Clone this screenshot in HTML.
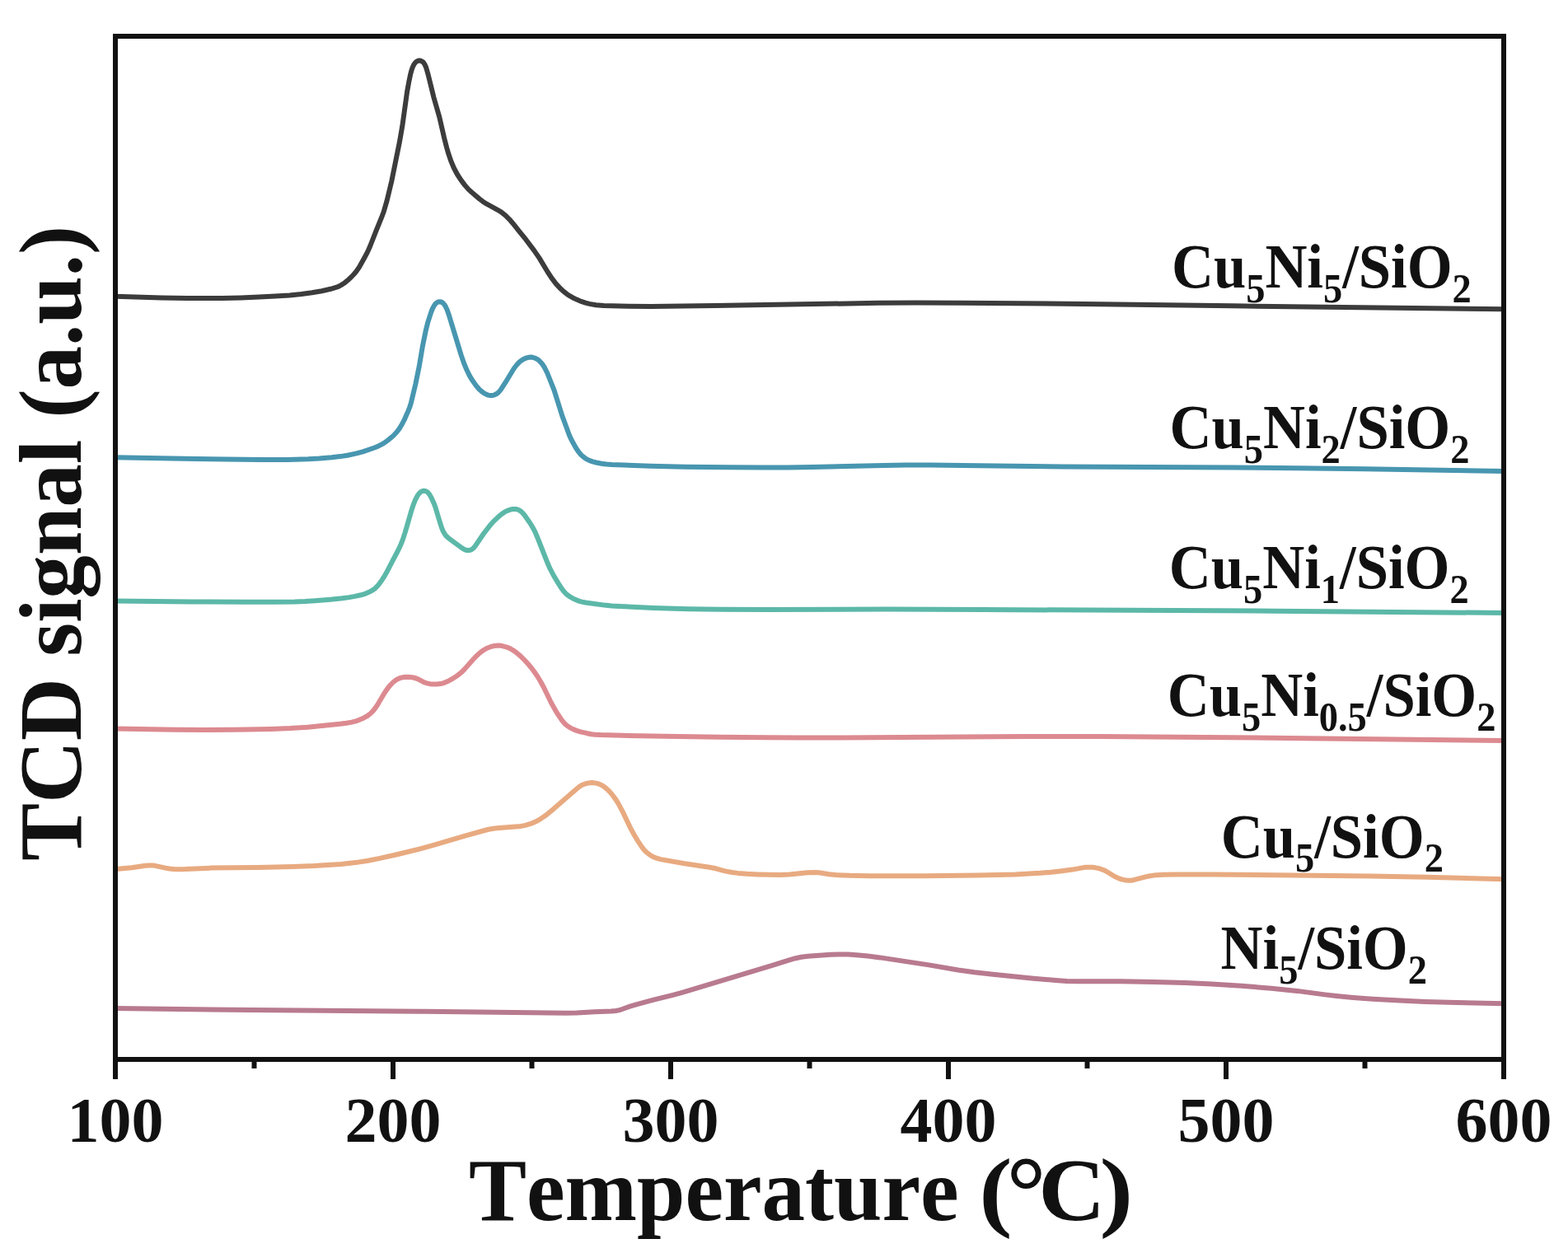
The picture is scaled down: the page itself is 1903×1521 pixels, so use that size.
<!DOCTYPE html>
<html><head><meta charset="utf-8"><title>TCD signal vs Temperature</title>
<style>html,body{margin:0;padding:0;background:#fff;overflow:hidden}svg{display:block}</style>
</head><body>
<svg xmlns="http://www.w3.org/2000/svg" width="1903" height="1521" viewBox="0 0 1903 1521">
<rect width="1903" height="1521" fill="#fff"/>
<g><path d="M140.0,359.7 L196.0,361.4 L227.0,361.9 L250.0,362.1 L270.0,361.9 L292.5,361.4 L314.4,360.6 L333.9,359.6 L351.4,358.4 L365.8,357.0 L378.7,355.3 L390.5,353.2 L401.3,350.8 L408.4,348.7 L411.2,347.6 L413.8,346.2 L418.8,342.9 L422.6,339.7 L426.3,336.3 L429.4,333.0 L432.0,330.0 L436.0,324.2 L442.8,312.0 L446.3,305.4 L449.1,299.0 L456.6,279.9 L463.0,264.2 L465.8,256.7 L469.3,244.7 L475.3,219.9 L484.8,172.9 L488.2,153.6 L494.2,110.6 L496.1,100.2 L498.2,90.0 L499.4,85.6 L500.5,82.3 L501.7,79.6 L502.9,77.5 L504.4,75.6 L505.8,74.5 L507.5,73.8 L509.2,73.5 L510.5,73.7 L511.7,74.2 L513.9,75.8 L515.5,78.2 L517.1,81.8 L519.7,90.9 L526.5,118.5 L533.3,142.1 L539.1,167.4 L542.1,179.0 L544.2,186.3 L547.4,195.7 L550.9,204.0 L554.9,211.5 L559.5,218.6 L564.0,224.6 L568.6,229.9 L572.3,233.3 L581.8,241.4 L585.8,244.4 L590.4,247.4 L604.0,254.8 L608.2,257.4 L613.3,261.4 L618.3,266.3 L622.5,271.2 L630.0,280.6 L638.2,290.7 L648.1,303.9 L654.6,313.4 L664.9,330.5 L669.6,337.6 L674.7,344.4 L680.5,350.6 L684.2,353.9 L687.7,356.7 L691.0,358.9 L694.9,361.2 L699.9,363.6 L705.4,365.9 L710.6,367.7 L715.4,368.9 L723.3,370.3 L732.8,371.0 L762.3,371.8 L789.8,372.0 L867.3,371.1 L1065.7,367.8 L1111.7,367.5 L1167.2,367.7 L1315.7,369.0 L1495.7,371.3 L1825.0,375.3" stroke="#3c3c3c" stroke-width="6.0" fill="none" stroke-linejoin="round" stroke-linecap="round"/>
<path d="M140.0,555.3 L238.0,557.0 L316.0,557.9 L350.0,557.9 L374.0,557.3 L387.4,556.6 L402.4,555.3 L412.8,554.1 L421.7,552.7 L431.5,550.6 L440.2,548.3 L454.4,543.5 L459.9,541.2 L465.6,538.1 L470.5,534.6 L477.0,529.2 L481.5,524.5 L484.8,520.1 L487.9,515.0 L491.3,508.3 L495.1,499.6 L497.3,494.0 L498.8,489.3 L504.3,466.4 L508.7,444.9 L512.7,421.2 L517.0,400.2 L519.2,391.4 L523.2,379.1 L524.8,374.9 L526.4,371.8 L528.0,369.3 L529.6,367.7 L531.6,366.5 L533.7,366.2 L534.9,366.4 L536.2,366.9 L537.3,367.6 L538.7,368.9 L540.6,371.7 L542.7,376.2 L545.3,383.8 L559.7,431.1 L563.1,441.0 L566.8,449.8 L569.9,456.1 L573.5,462.1 L577.9,468.2 L581.8,472.7 L584.4,475.0 L587.2,477.1 L589.7,478.5 L592.5,479.6 L594.8,480.1 L597.2,480.1 L599.6,479.6 L601.8,478.6 L603.4,477.6 L604.9,476.4 L607.5,473.4 L613.5,464.2 L623.6,447.5 L627.2,442.8 L630.7,439.2 L633.5,437.1 L636.1,435.6 L638.8,434.5 L641.6,433.8 L644.1,433.6 L646.5,433.8 L648.8,434.5 L651.5,435.7 L653.1,436.8 L655.0,438.4 L658.3,442.1 L661.2,446.7 L664.3,453.0 L672.6,473.9 L682.5,505.4 L687.4,518.5 L690.8,527.9 L693.7,534.2 L699.3,544.2 L702.4,548.8 L705.3,552.2 L708.3,554.8 L711.5,557.1 L715.1,558.9 L719.3,560.4 L723.6,561.5 L730.0,562.7 L736.0,563.4 L742.5,563.9 L789.4,565.8 L832.4,566.7 L884.9,567.3 L924.4,567.5 L955.9,567.4 L985.4,566.9 L1072.4,564.9 L1099.4,564.6 L1129.9,564.6 L1166.9,565.0 L1289.9,566.6 L1496.9,567.6 L1573.9,568.3 L1657.3,569.3 L1825.0,572.0" stroke="#4896b0" stroke-width="6.0" fill="none" stroke-linejoin="round" stroke-linecap="round"/>
<path d="M140.0,729.4 L234.0,730.4 L298.5,730.8 L334.0,730.8 L358.0,730.5 L370.0,730.0 L382.0,729.2 L400.9,727.7 L415.3,726.2 L423.7,725.1 L430.6,723.9 L438.0,722.3 L443.7,720.6 L447.8,718.8 L451.3,716.9 L454.6,714.7 L457.2,712.3 L459.5,709.8 L462.2,706.1 L465.8,700.7 L468.8,695.6 L476.4,680.9 L482.7,669.0 L485.3,663.6 L487.5,658.5 L489.5,652.9 L491.8,645.8 L499.9,617.9 L502.0,611.8 L504.1,606.7 L506.6,601.8 L508.9,598.7 L510.3,597.4 L511.5,596.6 L513.1,596.0 L514.4,595.8 L515.7,595.9 L517.0,596.3 L519.3,597.8 L521.4,600.4 L523.8,604.7 L526.5,610.7 L528.3,615.3 L533.9,634.0 L536.2,641.1 L538.0,645.2 L540.0,648.6 L541.5,650.6 L543.3,652.3 L549.2,656.9 L560.9,665.4 L563.9,667.1 L566.1,667.9 L568.4,668.1 L570.7,667.7 L572.9,666.7 L575.1,664.9 L577.5,661.8 L587.3,647.3 L595.6,636.7 L598.3,633.7 L603.0,629.2 L606.6,625.8 L609.4,623.7 L612.2,621.7 L615.3,620.1 L618.6,618.9 L621.4,618.1 L623.9,617.9 L626.3,618.0 L628.6,618.6 L630.8,619.7 L633.8,622.1 L636.7,625.5 L643.0,634.5 L646.9,640.9 L649.6,646.2 L653.1,654.5 L664.9,684.3 L667.7,690.7 L671.7,698.2 L677.3,707.6 L681.6,714.4 L684.9,718.7 L688.1,721.8 L692.2,724.7 L697.0,727.3 L702.6,729.6 L706.4,730.6 L710.8,731.5 L733.6,734.6 L742.5,735.5 L752.0,736.1 L793.5,737.9 L836.0,739.2 L875.5,739.8 L932.0,740.0 L1075.5,739.6 L1193.5,740.0 L1545.5,741.7 L1825.0,744.0" stroke="#5cb8a8" stroke-width="6.0" fill="none" stroke-linejoin="round" stroke-linecap="round"/>
<path d="M140.0,884.4 L211.0,885.7 L244.0,886.1 L285.0,885.8 L329.5,885.0 L352.5,884.1 L373.4,882.7 L412.7,878.7 L420.6,877.7 L427.0,876.6 L433.8,874.8 L439.8,872.3 L445.9,869.0 L448.3,867.2 L450.6,865.3 L453.3,862.4 L456.3,858.4 L459.2,853.8 L466.6,841.3 L471.1,834.7 L474.0,831.3 L476.8,828.5 L479.5,826.2 L482.4,824.4 L485.6,823.0 L489.5,822.1 L493.4,821.8 L497.9,821.9 L501.8,822.5 L505.2,823.5 L507.9,824.6 L512.7,827.2 L515.4,828.5 L518.2,829.4 L521.6,830.2 L525.5,830.6 L530.0,830.6 L534.5,830.1 L538.3,829.1 L542.9,827.3 L548.7,824.2 L553.3,821.3 L557.7,818.0 L561.1,815.1 L564.2,811.9 L573.1,801.7 L577.5,797.0 L581.9,792.9 L585.8,789.8 L590.6,787.0 L595.2,785.2 L600.0,784.0 L605.0,783.6 L609.4,784.1 L614.2,785.3 L618.4,786.9 L622.7,789.3 L626.8,792.2 L631.4,796.1 L637.0,801.7 L642.1,807.3 L645.5,811.5 L649.1,816.4 L652.4,821.3 L655.6,826.5 L660.1,834.8 L668.8,852.8 L675.7,865.0 L681.8,874.1 L684.0,876.8 L686.4,879.3 L689.1,881.5 L692.5,883.6 L696.0,885.4 L699.8,886.9 L704.5,888.3 L712.8,890.2 L717.7,891.2 L722.2,891.7 L728.7,892.1 L746.2,892.6 L807.1,893.8 L873.6,894.8 L930.6,895.3 L971.1,895.5 L1019.6,895.4 L1242.6,894.0 L1335.1,894.1 L1432.6,894.7 L1584.6,896.2 L1825.0,899.0" stroke="#dc8a90" stroke-width="6.0" fill="none" stroke-linejoin="round" stroke-linecap="round"/>
<path d="M140.5,1055.1 L159.9,1053.2 L176.7,1050.8 L182.2,1050.4 L185.2,1050.5 L188.1,1050.9 L200.8,1053.6 L205.7,1054.5 L210.7,1055.1 L216.2,1055.3 L225.2,1055.1 L256.6,1053.6 L313.1,1053.1 L356.1,1052.0 L381.1,1051.0 L414.0,1048.9 L431.4,1047.1 L446.8,1044.7 L461.0,1041.9 L482.9,1037.0 L514.5,1029.2 L527.0,1025.7 L565.3,1014.3 L591.9,1007.0 L597.3,1006.0 L602.7,1005.3 L632.1,1002.9 L637.5,1001.9 L643.2,1000.2 L647.9,998.4 L652.8,996.0 L657.1,993.4 L661.6,990.3 L671.7,982.1 L700.0,957.5 L703.9,954.4 L706.9,952.7 L710.6,951.3 L714.5,950.4 L718.4,950.1 L721.9,950.4 L725.3,951.1 L728.5,952.3 L731.2,953.7 L734.0,955.6 L737.1,958.2 L740.2,961.4 L743.1,964.8 L747.6,970.9 L751.5,977.3 L756.1,986.1 L764.9,1004.6 L769.4,1013.0 L774.3,1021.1 L778.8,1027.8 L782.1,1032.1 L785.3,1035.2 L789.3,1038.2 L792.4,1039.9 L795.1,1041.1 L798.4,1042.2 L801.8,1043.1 L829.3,1048.0 L862.4,1053.0 L868.8,1054.3 L877.9,1056.9 L882.3,1057.9 L888.7,1059.0 L895.6,1059.9 L906.1,1060.8 L919.1,1061.4 L933.6,1061.8 L946.6,1061.9 L958.1,1061.5 L980.0,1059.3 L988.4,1059.0 L993.9,1059.3 L1006.2,1061.3 L1014.2,1062.1 L1031.2,1062.8 L1054.7,1063.2 L1122.7,1063.2 L1186.2,1062.5 L1232.2,1061.4 L1249.2,1060.6 L1262.6,1059.8 L1275.6,1058.7 L1289.0,1057.2 L1301.4,1055.6 L1315.2,1053.1 L1318.6,1052.8 L1322.1,1052.7 L1325.6,1052.8 L1329.6,1053.3 L1333.5,1054.2 L1336.8,1055.2 L1340.1,1056.4 L1342.7,1057.7 L1352.5,1063.7 L1357.0,1065.9 L1359.8,1067.0 L1363.1,1067.9 L1366.6,1068.5 L1369.5,1068.8 L1372.5,1068.7 L1375.9,1068.2 L1390.4,1064.4 L1395.8,1063.3 L1400.3,1062.6 L1411.7,1061.8 L1430.2,1061.5 L1468.7,1061.5 L1500.7,1061.7 L1663.7,1063.6 L1731.7,1064.8 L1825.0,1067.3" stroke="#e8aa80" stroke-width="6.0" fill="none" stroke-linejoin="round" stroke-linecap="round"/>
<path d="M140.0,1224.0 L306.0,1226.1 L515.5,1227.8 L666.0,1229.6 L686.5,1229.7 L700.0,1229.5 L721.4,1228.3 L741.9,1227.6 L747.4,1227.0 L751.8,1226.1 L755.1,1225.0 L764.5,1221.6 L773.1,1219.1 L792.4,1213.9 L816.7,1207.9 L827.8,1204.8 L938.9,1171.4 L957.9,1165.4 L965.6,1163.2 L972.5,1161.8 L980.4,1160.8 L1008.3,1158.8 L1020.3,1158.4 L1029.3,1158.6 L1039.3,1159.2 L1053.2,1160.6 L1068.1,1162.4 L1127.4,1171.4 L1162.9,1177.5 L1182.7,1180.2 L1205.1,1182.7 L1254.3,1187.7 L1281.2,1190.0 L1294.7,1190.9 L1307.7,1191.3 L1360.2,1191.2 L1400.2,1191.9 L1438.7,1193.0 L1470.6,1194.4 L1506.6,1196.7 L1542.9,1199.7 L1574.3,1202.9 L1608.0,1207.4 L1621.9,1209.0 L1642.3,1210.9 L1666.2,1212.7 L1699.2,1214.6 L1730.1,1216.0 L1758.1,1216.8 L1825.0,1218.2" stroke="#b87a8e" stroke-width="6.0" fill="none" stroke-linejoin="round" stroke-linecap="round"/></g>
<g stroke="#111" stroke-width="6" fill="none">
<rect x="140" y="44" width="1685" height="1242"/>
<line x1="140.0" y1="1286" x2="140.0" y2="1310"/>
<line x1="308.5" y1="1286" x2="308.5" y2="1297"/>
<line x1="477.0" y1="1286" x2="477.0" y2="1310"/>
<line x1="645.5" y1="1286" x2="645.5" y2="1297"/>
<line x1="814.0" y1="1286" x2="814.0" y2="1310"/>
<line x1="982.5" y1="1286" x2="982.5" y2="1297"/>
<line x1="1151.0" y1="1286" x2="1151.0" y2="1310"/>
<line x1="1319.5" y1="1286" x2="1319.5" y2="1297"/>
<line x1="1488.0" y1="1286" x2="1488.0" y2="1310"/>
<line x1="1656.5" y1="1286" x2="1656.5" y2="1297"/>
<line x1="1825.0" y1="1286" x2="1825.0" y2="1310"/>
</g>
<g font-family="'Liberation Serif', 'Times New Roman', serif" font-weight="bold" fill="#111" style="font-kerning:none">
<g font-size="78"><text x="140.0" y="1386" text-anchor="middle">100</text>
<text x="477.0" y="1386" text-anchor="middle">200</text>
<text x="814.0" y="1386" text-anchor="middle">300</text>
<text x="1151.0" y="1386" text-anchor="middle">400</text>
<text x="1488.0" y="1386" text-anchor="middle">500</text>
<text x="1825.0" y="1386" text-anchor="middle">600</text></g>
<g font-size="76"><text transform="scale(0.9290,1)" x="1530.6" y="349.5"><tspan>Cu</tspan><tspan font-size="50" dy="17.5">5</tspan><tspan dy="-17.5">Ni</tspan><tspan font-size="50" dy="17.5">5</tspan><tspan dy="-17.5">/SiO</tspan><tspan font-size="50" dy="17.5">2</tspan></text>
<text transform="scale(0.9290,1)" x="1528.0" y="544.2"><tspan>Cu</tspan><tspan font-size="50" dy="17.5">5</tspan><tspan dy="-17.5">Ni</tspan><tspan font-size="50" dy="17.5">2</tspan><tspan dy="-17.5">/SiO</tspan><tspan font-size="50" dy="17.5">2</tspan></text>
<text transform="scale(0.9290,1)" x="1527.2" y="714.2"><tspan>Cu</tspan><tspan font-size="50" dy="17.5">5</tspan><tspan dy="-17.5">Ni</tspan><tspan font-size="50" dy="17.5">1</tspan><tspan dy="-17.5">/SiO</tspan><tspan font-size="50" dy="17.5">2</tspan></text>
<text transform="scale(0.9290,1)" x="1525.0" y="869.4"><tspan>Cu</tspan><tspan font-size="50" dy="17.5">5</tspan><tspan dy="-17.5">Ni</tspan><tspan font-size="50" dy="17.5">0.5</tspan><tspan dy="-17.5">/SiO</tspan><tspan font-size="50" dy="17.5">2</tspan></text>
<text transform="scale(0.9290,1)" x="1595.0" y="1040.7"><tspan>Cu</tspan><tspan font-size="50" dy="17.5">5</tspan><tspan dy="-17.5">/SiO</tspan><tspan font-size="50" dy="17.5">2</tspan></text>
<text transform="scale(0.9290,1)" x="1594.8" y="1176.2"><tspan>Ni</tspan><tspan font-size="50" dy="17.5">5</tspan><tspan dy="-17.5">/SiO</tspan><tspan font-size="50" dy="17.5">2</tspan></text></g>
<text x="568.9" y="1480.5" font-size="108" textLength="594.8" lengthAdjust="spacingAndGlyphs">Temperature</text>
<text transform="translate(1188.2,1480.5) scale(1.12,1)" font-size="108">(</text>
<text x="1221.6" y="1487.3" font-size="120">°</text>
<text transform="translate(1260.2,1480.5) scale(1.04,1)" font-size="108">C</text>
<text transform="translate(1334.4,1480.5) scale(1.13,1)" font-size="108">)</text>
<text transform="translate(98,1045) rotate(-90)" x="0" y="0" font-size="108" textLength="771" lengthAdjust="spacingAndGlyphs">TCD signal (a.u.)</text>
</g>
</svg>
</body></html>
